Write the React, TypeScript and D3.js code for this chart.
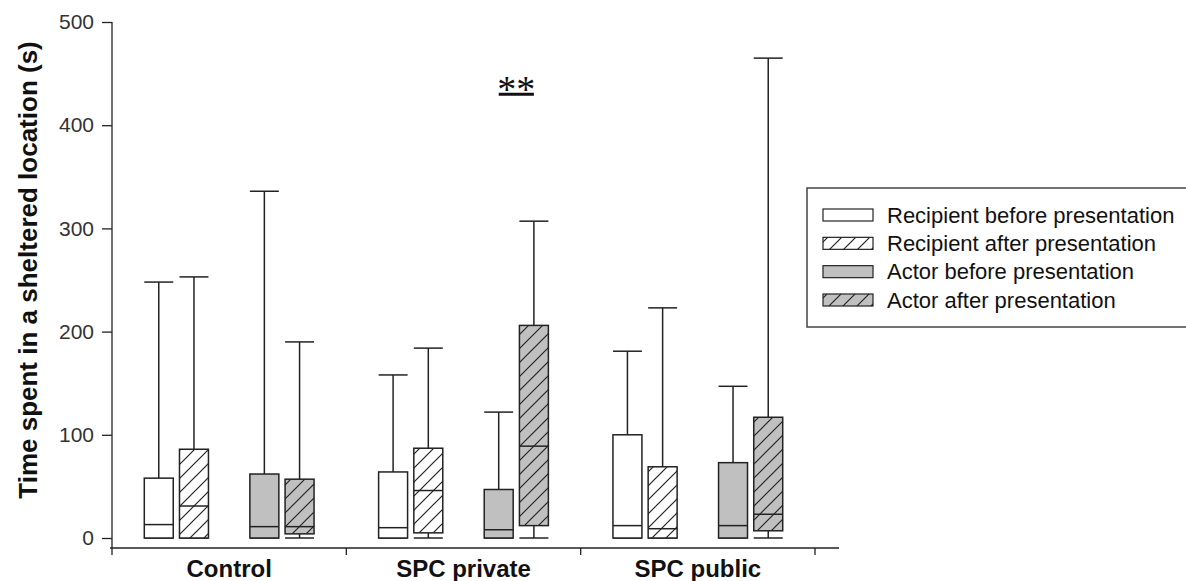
import React, { useEffect, useRef } from 'react';
import * as d3 from 'd3';

// categories and series
const groups = ['Control', 'SPC private', 'SPC public'];
const seriesNames = [
  'Recipient before presentation',
  'Recipient after presentation',
  'Actor before presentation',
  'Actor after presentation',
];
const seriesKeys = ['rb', 'ra', 'ab', 'aa'];

// box stats per series, one entry per group: [min, q1, median, q3, max]
const recipientBefore = [
  [0, 0, 13, 58, 248],
  [0, 0, 10, 64, 158],
  [0, 0, 12, 100, 181],
];
const recipientAfter = [
  [0, 0, 31, 86, 253],
  [0, 5, 46, 87, 184],
  [0, 0, 9, 69, 223],
];
const actorBefore = [
  [0, 0, 11, 62, 336],
  [0, 0, 8, 47, 122],
  [0, 0, 12, 73, 147],
];
const actorAfter = [
  [0, 4, 11, 57, 190],
  [0, 12, 89, 206, 307],
  [0, 7, 23, 117, 465],
];

const yTicks = [0, 100, 200, 300, 400, 500];

// significance marker
const significance = [{ group: 'SPC private', from: 'ab', to: 'aa', value: 430, label: '**' }];

const App = () => {
  const svgRef = useRef<SVGSVGElement>(null);
  const width = 1186;
  const height = 581;

  useEffect(() => {
    const svg = d3.select(svgRef.current);
    svg.selectAll('*').remove();

    const ink = '#222';
    const grey = '#c0c0c0';
    const sans = 'Liberation Sans, Arial, sans-serif';

    const defs = svg.append('defs');
    const hatch = (id: string, bg: string) => {
      const p = defs.append('pattern')
        .attr('id', id)
        .attr('patternUnits', 'userSpaceOnUse')
        .attr('width', 14)
        .attr('height', 14);
      p.append('rect').attr('width', 14).attr('height', 14).attr('fill', bg);
      p.append('path')
        .attr('d', 'M-1,15 L15,-1 M-4,4 L4,-4 M10,18 L18,10')
        .attr('stroke', ink)
        .attr('stroke-width', 1.2);
    };
    hatch('hatchWhite', '#fff');
    hatch('hatchGrey', grey);

    const fills: Record<string, string> = {
      rb: '#fff',
      ra: 'url(#hatchWhite)',
      ab: grey,
      aa: 'url(#hatchGrey)',
    };
    const stats: Record<string, number[][]> = {
      rb: recipientBefore,
      ra: recipientAfter,
      ab: actorBefore,
      aa: actorAfter,
    };

    const x = d3.scaleBand().domain(groups).range([112, 815]);
    const inner = d3.scaleBand()
      .domain(['rb', 'ra', 'gap', 'ab', 'aa'])
      .range([-88, 88])
      .paddingInner(0.177)
      .paddingOuter(0.0885);
    const y = d3.scaleLinear().domain([0, 500]).range([538, 22]);
    const bw = inner.bandwidth();

    // y axis
    const yAxis = svg.append('g')
      .attr('transform', 'translate(112,0)')
      .call(d3.axisLeft(y).tickValues(yTicks).tickSize(10).tickPadding(8));
    yAxis.select('.domain').attr('d', `M0,${y(500)}V548`).attr('stroke', ink).attr('stroke-width', 1.3);
    yAxis.selectAll('.tick line').attr('stroke', ink).attr('stroke-width', 1.3);
    yAxis.selectAll('text')
      .attr('font-family', sans)
      .attr('font-size', 21)
      .attr('fill', '#333');

    // x axis
    const xg = svg.append('g');
    xg.append('line')
      .attr('x1', 110).attr('x2', 839)
      .attr('y1', 548).attr('y2', 548)
      .attr('stroke', ink).attr('stroke-width', 1.3);
    const bounds = [...groups.map(g => x(g) as number), 815];
    xg.selectAll('line.tk')
      .data(bounds)
      .enter()
      .append('line')
      .attr('class', 'tk')
      .attr('x1', d => d).attr('x2', d => d)
      .attr('y1', 548).attr('y2', 555)
      .attr('stroke', ink).attr('stroke-width', 1.3);
    xg.selectAll('text')
      .data(groups)
      .enter()
      .append('text')
      .attr('x', d => (x(d) as number) + x.bandwidth() / 2)
      .attr('y', 577)
      .attr('text-anchor', 'middle')
      .attr('font-family', sans)
      .attr('font-weight', 'bold')
      .attr('font-size', 24)
      .attr('fill', '#111')
      .text(d => d);

    // y label
    svg.append('text')
      .attr('transform', 'translate(37,270) rotate(-90)')
      .attr('text-anchor', 'middle')
      .attr('font-family', sans)
      .attr('font-weight', 'bold')
      .attr('font-size', 26)
      .attr('fill', '#111')
      .text('Time spent in a sheltered location (s)');

    // boxes
    groups.forEach((g, gi) => {
      const cx0 = (x(g) as number) + x.bandwidth() / 2;
      seriesKeys.forEach(k => {
        const [mn, q1, med, q3, mx] = stats[k][gi];
        const x0 = cx0 + (inner(k) as number);
        const cx = x0 + bw / 2;
        const b = svg.append('g');
        // whiskers
        b.append('line').attr('x1', cx).attr('x2', cx).attr('y1', y(q3)).attr('y2', y(mx));
        b.append('line').attr('x1', x0).attr('x2', x0 + bw).attr('y1', y(mx)).attr('y2', y(mx));
        b.append('line').attr('x1', cx).attr('x2', cx).attr('y1', y(q1)).attr('y2', y(mn));
        b.append('line').attr('x1', x0).attr('x2', x0 + bw).attr('y1', y(mn)).attr('y2', y(mn));
        b.append('rect')
          .attr('x', x0).attr('y', y(q3))
          .attr('width', bw).attr('height', y(q1) - y(q3))
          .attr('fill', fills[k]);
        b.append('line').attr('x1', x0).attr('x2', x0 + bw).attr('y1', y(med)).attr('y2', y(med));
        b.selectAll('line, rect').attr('stroke', ink).attr('stroke-width', 1.5);
      });
    });

    // significance
    significance.forEach(s => {
      const cx0 = (x(s.group) as number) + x.bandwidth() / 2;
      const a = cx0 + (inner(s.from) as number) + bw / 2;
      const c = cx0 + (inner(s.to) as number) + bw / 2;
      svg.append('line')
        .attr('x1', a).attr('x2', c)
        .attr('y1', y(s.value)).attr('y2', y(s.value))
        .attr('stroke', '#111').attr('stroke-width', 3);
      svg.append('text')
        .attr('x', (a + c) / 2)
        .attr('y', y(s.value) + 8)
        .attr('text-anchor', 'middle')
        .attr('font-family', 'Liberation Serif, Times New Roman, serif')
        .attr('font-size', 38)
        .attr('fill', '#111')
        .text(s.label);
    });

    // legend
    const lg = svg.append('g').attr('transform', 'translate(807,188)');
    lg.append('rect')
      .attr('width', 420).attr('height', 139)
      .attr('fill', '#fff').attr('stroke', '#444').attr('stroke-width', 1.5);
    const rowY = d3.scalePoint().domain(seriesKeys).range([27, 112]);
    seriesKeys.forEach((k, i) => {
      const ry = rowY(k) as number;
      lg.append('rect')
        .attr('x', 16).attr('y', ry - 6)
        .attr('width', 50).attr('height', 12)
        .attr('fill', fills[k]).attr('stroke', ink).attr('stroke-width', 1.2);
      lg.append('text')
        .attr('x', 80).attr('y', ry)
        .attr('dy', '0.35em')
        .attr('font-family', sans)
        .attr('font-size', 22)
        .attr('fill', '#111')
        .text(seriesNames[i]);
    });
  }, []);

  return (
    <svg
      ref={svgRef}
      width={width}
      height={height}
      style={{ position: 'absolute', left: 0, top: 0, background: '#fff' }}
    ></svg>
  );
};

export default App;
